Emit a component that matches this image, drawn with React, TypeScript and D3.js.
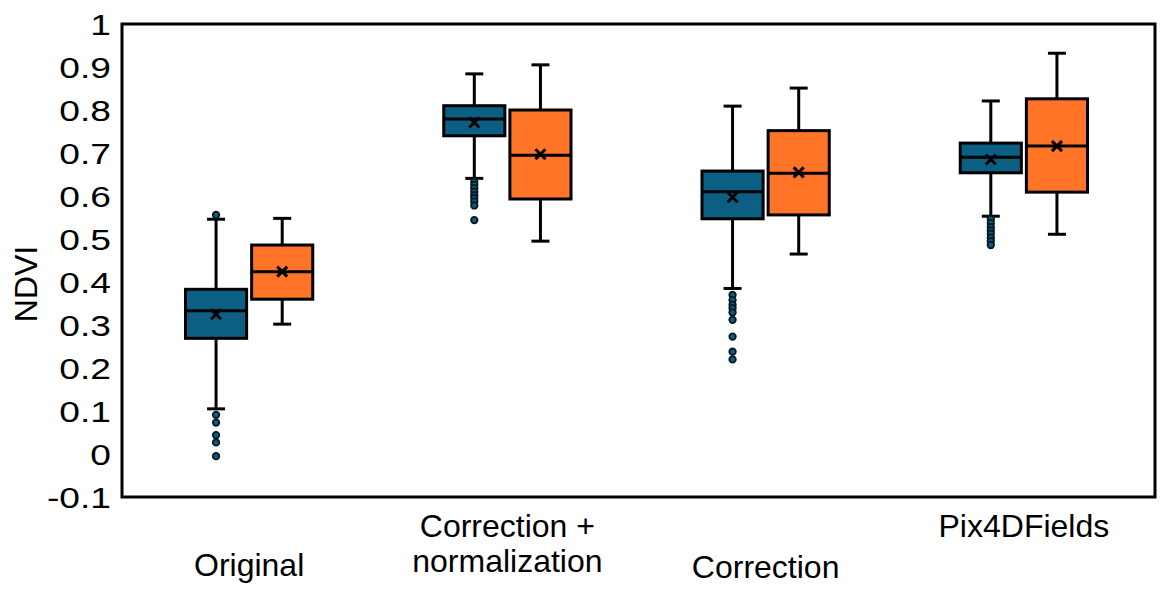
import React, { useEffect, useRef } from 'react';
import * as d3 from 'd3';

// categories along the x axis (label lines as printed under each group)
const groups = ['Original', 'Correction + normalization', 'Correction', 'Pix4DFields'];
const groupLabelLines = [['Original'], ['Correction +', 'normalization'], ['Correction'], ['Pix4DFields']];
const seriesKeys = ['blue', 'orange'];

// first series (blue) per group
const blueMin = [0.105, 0.641, 0.385, 0.553];
const blueQ1 = [0.269, 0.74, 0.547, 0.654];
const blueMedian = [0.333, 0.779, 0.61, 0.69];
const blueQ3 = [0.383, 0.81, 0.658, 0.723];
const blueMax = [0.546, 0.884, 0.809, 0.821];
const blueMean = [0.325, 0.771, 0.597, 0.685];
const blueOutliers = [
    [0.556, 0.091, 0.073, 0.044, 0.027, -0.005],
    [0.633, 0.626, 0.618, 0.61, 0.602, 0.595, 0.587, 0.578, 0.544],
    [0.37, 0.358, 0.347, 0.339, 0.329, 0.312, 0.273, 0.238, 0.22],
    [0.546, 0.537, 0.528, 0.52, 0.512, 0.503, 0.495, 0.486]
];

// second series (orange) per group
const orangeMin = [0.302, 0.495, 0.465, 0.511];
const orangeQ1 = [0.36, 0.593, 0.556, 0.609];
const orangeMedian = [0.424, 0.695, 0.653, 0.716];
const orangeQ3 = [0.486, 0.8, 0.752, 0.826];
const orangeMax = [0.548, 0.905, 0.851, 0.932];
const orangeMean = [0.424, 0.697, 0.655, 0.716];
const orangeOutliers = [[], [], [], []];

const yTicks = [-0.1, 0, 0.1, 0.2, 0.3, 0.4, 0.5, 0.6, 0.7, 0.8, 0.9, 1];
const yTickLabels = ['-0.1', '0', '0.1', '0.2', '0.3', '0.4', '0.5', '0.6', '0.7', '0.8', '0.9', '1'];

const colors = { blue: '#0b5f83', orange: '#ff7427' };
const FONT = 'Liberation Sans, Arial, Helvetica, sans-serif';
const SW = 3;

const App = () => {
    const svgRef = useRef<SVGSVGElement>(null);

    useEffect(() => {
        const W = 1170;
        const H = 593;
        const margin = { top: 24, right: 15, bottom: 96, left: 122 };

        const svg = d3.select(svgRef.current);
        svg.selectAll('*').remove();
        svg.attr('width', W).attr('height', H);

        const x = d3.scaleBand().domain(groups).range([margin.left - 2, W - margin.right - 2]);
        const xs = d3.scaleBand().domain(seriesKeys).range([0, x.bandwidth()]).paddingInner(0.076).paddingOuter(0.99);
        const y = d3.scaleLinear().domain([-0.1, 1]).range([H - margin.bottom, margin.top]);

        const stats = {
            blue: { min: blueMin, q1: blueQ1, med: blueMedian, q3: blueQ3, max: blueMax, mean: blueMean, out: blueOutliers },
            orange: { min: orangeMin, q1: orangeQ1, med: orangeMedian, q3: orangeQ3, max: orangeMax, mean: orangeMean, out: orangeOutliers }
        };

        const rows = [];
        groups.forEach((g, i) => {
            seriesKeys.forEach(k => {
                const s = stats[k];
                rows.push({
                    group: g, key: k,
                    min: s.min[i], q1: s.q1[i], med: s.med[i], q3: s.q3[i], max: s.max[i], mean: s.mean[i], out: s.out[i]
                });
            });
        });

        // frame
        svg.append('rect')
            .attr('x', margin.left)
            .attr('y', margin.top)
            .attr('width', W - margin.right - margin.left)
            .attr('height', H - margin.bottom - margin.top)
            .attr('fill', 'none')
            .attr('stroke', '#000')
            .attr('stroke-width', SW);

        // y tick labels (drawn a little wide)
        svg.append('g')
            .selectAll('text')
            .data(yTicks)
            .enter()
            .append('text')
            .attr('transform', d => `translate(111, ${y(d)}) scale(1.24, 1)`)
            .attr('text-anchor', 'end')
            .attr('dy', '0.36em')
            .style('font-family', FONT)
            .style('font-size', '30px')
            .text((d, i) => yTickLabels[i]);

        svg.append('text')
            .attr('transform', 'rotate(-90)')
            .attr('x', -284)
            .attr('y', 37)
            .attr('text-anchor', 'middle')
            .style('font-family', FONT)
            .style('font-size', '32px')
            .text('NDVI');

        const boxes = svg.append('g')
            .selectAll('g')
            .data(rows)
            .enter()
            .append('g')
            .attr('transform', d => `translate(${x(d.group) + xs(d.key)}, 0)`);

        const bw = xs.bandwidth();
        const cx = bw / 2;
        const cap = 18;

        // whiskers
        boxes.append('line')
            .attr('x1', cx).attr('x2', cx)
            .attr('y1', d => y(d.max)).attr('y2', d => y(d.q3))
            .attr('stroke', '#000').attr('stroke-width', SW);
        boxes.append('line')
            .attr('x1', cx).attr('x2', cx)
            .attr('y1', d => y(d.q1)).attr('y2', d => y(d.min))
            .attr('stroke', '#000').attr('stroke-width', SW);
        boxes.append('line')
            .attr('x1', cx - cap / 2).attr('x2', cx + cap / 2)
            .attr('y1', d => y(d.max)).attr('y2', d => y(d.max))
            .attr('stroke', '#000').attr('stroke-width', SW);
        boxes.append('line')
            .attr('x1', cx - cap / 2).attr('x2', cx + cap / 2)
            .attr('y1', d => y(d.min)).attr('y2', d => y(d.min))
            .attr('stroke', '#000').attr('stroke-width', SW);

        // box
        boxes.append('rect')
            .attr('x', 0)
            .attr('width', bw)
            .attr('y', d => y(d.q3))
            .attr('height', d => y(d.q1) - y(d.q3))
            .attr('fill', d => colors[d.key])
            .attr('stroke', '#000')
            .attr('stroke-width', SW);

        // median
        boxes.append('line')
            .attr('x1', 0).attr('x2', bw)
            .attr('y1', d => y(d.med)).attr('y2', d => y(d.med))
            .attr('stroke', '#000').attr('stroke-width', SW);

        // mean marker
        const m = 5;
        boxes.append('path')
            .attr('d', d => {
                const yy = y(d.mean);
                return `M${cx - m},${yy - m}L${cx + m},${yy + m}M${cx - m},${yy + m}L${cx + m},${yy - m}`;
            })
            .attr('stroke', '#000')
            .attr('stroke-width', SW)
            .attr('fill', 'none');

        // outliers
        boxes.selectAll('circle')
            .data(d => d.out.map(v => ({ v, key: d.key })))
            .enter()
            .append('circle')
            .attr('cx', cx)
            .attr('cy', d => y(d.v))
            .attr('r', 3.2)
            .attr('fill', d => colors[d.key])
            .attr('stroke', '#061a24')
            .attr('stroke-width', 1.9);

        // category labels
        const labelBaselines = [[576], [537, 572], [578], [537]];
        groups.forEach((g, i) => {
            groupLabelLines[i].forEach((line, j) => {
                svg.append('text')
                    .attr('x', x(g) + x.bandwidth() / 2)
                    .attr('y', labelBaselines[i][j])
                    .attr('text-anchor', 'middle')
                    .style('font-family', FONT)
                    .style('font-size', '32px')
                    .text(line);
            });
        });
    }, []);

    return <svg ref={svgRef} style={{ position: 'absolute', left: 0, top: 0, background: '#fff' }}></svg>;
};

export default App;
